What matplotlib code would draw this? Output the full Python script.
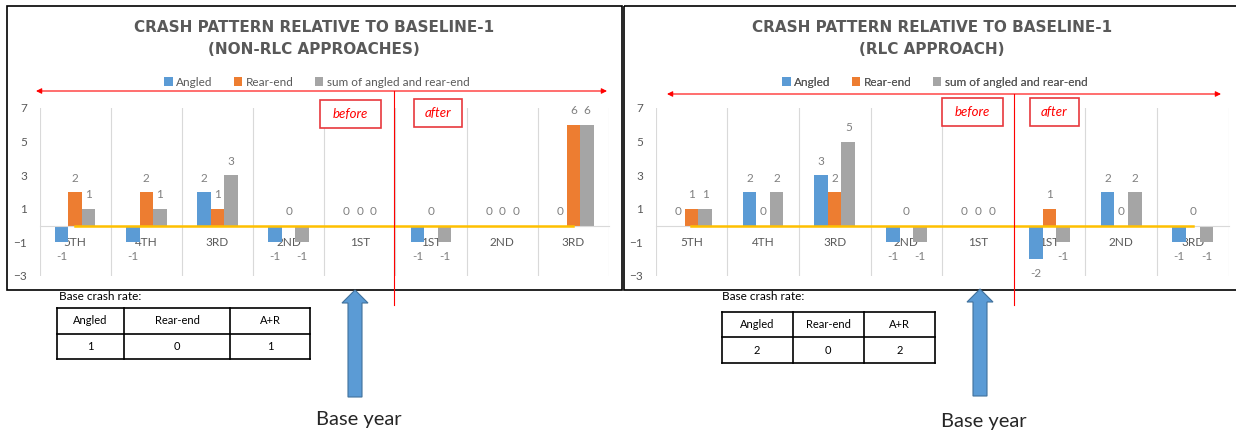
import matplotlib
matplotlib.use('Agg')
import matplotlib.pyplot as plt
from matplotlib.patches import Rectangle, Polygon, Patch
import numpy as np

plt.rcParams['font.family'] = ['Lato', 'DejaVu Sans']

# data
categories = ['5TH', '4TH', '3RD', '2ND', '1ST', '1ST', '2ND', '3RD']
series_names = ['Angled', 'Rear-end', 'sum of angled and rear-end']

nonrlc_angled = [-1, -1, 2, -1, 0, -1, 0, 0]
nonrlc_rearend = [2, 2, 1, 0, 0, 0, 0, 6]
nonrlc_sum = [1, 1, 3, -1, 0, -1, 0, 6]

rlc_angled = [0, 2, 3, -1, 0, -2, 2, -1]
rlc_rearend = [1, 0, 2, 0, 0, 1, 0, 0]
rlc_sum = [1, 2, 5, -1, 0, -1, 2, -1]

base_headers = ['Angled', 'Rear-end', 'A+R']
nonrlc_base = [1, 0, 1]
rlc_base = [2, 0, 2]

y_ticks = [-3, -1, 1, 3, 5, 7]

title_line1 = 'CRASH PATTERN RELATIVE TO BASELINE-1'
nonrlc_sub = '(NON-RLC APPROACHES)'
rlc_sub = '(RLC APPROACH)'

colors = ['#5B9BD5', '#ED7D31', '#A5A5A5']
GRAY = '#595959'

W, H = 1236, 433
fig = plt.figure(figsize=(W / 100, H / 100), dpi=100)


def ax_rect(x0, x1, y0, y1):
    return [x0 / W, 1 - y1 / H, (x1 - x0) / W, (y1 - y0) / H]


def draw_panel(ax, angled, rearend, total):
    x = np.arange(len(categories))
    w = 0.19
    for k, (vals, col) in enumerate(zip([angled, rearend, total], colors)):
        xs = x + (k - 1) * w
        ax.bar(xs, vals, w, color=col, zorder=2)
        for xi, v in zip(xs, vals):
            ax.annotate(str(v), (xi, v), xytext=(0, 10 if v >= 0 else -10.5),
                        textcoords='offset points', ha='center', va='center',
                        fontsize=8.5, color='#808080')
    ax.plot(x, np.zeros(len(x)), color='#FFC000', lw=1.8, zorder=3)
    ax.set_xlim(-0.5, len(categories) - 0.5)
    ax.set_ylim(-3, 7)
    ax.set_yticks(y_ticks)
    ax.set_xticks(x)
    ax.set_xticklabels(categories, family=['DejaVu Sans'])
    ax.set_xticks(np.arange(-0.5, len(categories)), minor=True)
    ax.grid(True, which='minor', axis='x', color='#D9D9D9', lw=0.8)
    ax.tick_params(which='both', length=0)
    ax.tick_params(axis='x', pad=8, labelcolor=GRAY, labelsize=8.5)
    ax.tick_params(axis='y', pad=9, labelcolor=GRAY, labelsize=8.5)
    for s in ['top', 'right', 'left']:
        ax.spines[s].set_visible(False)
    ax.spines['bottom'].set_position(('data', 0))
    ax.spines['bottom'].set_color('#D9D9D9')
    ax.set_facecolor('none')


ax1 = fig.add_axes(ax_rect(39.5, 609, 108, 276))
draw_panel(ax1, nonrlc_angled, nonrlc_rearend, nonrlc_sum)
ax2 = fig.add_axes(ax_rect(655.6, 1228.7, 108, 276))
draw_panel(ax2, rlc_angled, rlc_rearend, rlc_sum)

# overlay in pixel coordinates
ov = fig.add_axes([0, 0, 1, 1], zorder=5)
ov.set_xlim(0, W)
ov.set_ylim(H, 0)
ov.axis('off')
ov.patch.set_alpha(0)

# panel borders
ov.add_patch(Rectangle((7, 6), 615, 284, fill=False, ec='black', lw=1.2))
ov.add_patch(Rectangle((624, 6), 620, 284, fill=False, ec='black', lw=1.2))


def draw_overlay(cx, sub, arrow_x, arrow_y, red_x, before_box, after_box,
                 base_xy, cols, rows, base_vals, blue_x, tip_y, text_y):
    ov.text(cx, 27, title_line1, ha='center', va='center', fontsize=11,
            weight='bold', color=GRAY, family=['DejaVu Sans'])
    ov.text(cx, 49, sub, ha='center', va='center', fontsize=11,
            weight='bold', color=GRAY, family=['DejaVu Sans'])
    handles = [Patch(facecolor=c, edgecolor='none') for c in colors]
    leg = ov.legend(handles, series_names, loc='center',
                    bbox_to_anchor=(cx + 3, 82), bbox_transform=ov.transData,
                    ncol=3, frameon=False, fontsize=8.5,
                    handlelength=0.7, handleheight=0.7, handletextpad=0.3,
                    columnspacing=1.8, labelcolor=GRAY)
    ov.add_artist(leg)
    ov.annotate('', xy=(arrow_x[1], arrow_y), xytext=(arrow_x[0], arrow_y),
                arrowprops=dict(arrowstyle='<|-|>', color='red', lw=0.8,
                                mutation_scale=8, shrinkA=0, shrinkB=0))
    ov.plot([red_x, red_x], [arrow_y, 305], color='red', lw=0.8)
    for (x0, x1, y0, y1), label in [(before_box, 'before'), (after_box, 'after')]:
        ov.add_patch(Rectangle((x0, y0), x1 - x0, y1 - y0, fc='white',
                               ec='#E8383D', lw=1.2))
        ov.text((x0 + x1) / 2, (y0 + y1) / 2, label, ha='center', va='center',
                fontsize=9.5, style='italic', color='red')
    # base crash rate table
    ov.text(base_xy[0], base_xy[1], 'Base crash rate:', ha='left', va='center',
            fontsize=8.5, color='black')
    for xx in cols:
        ov.plot([xx, xx], [rows[0], rows[-1]], color='black', lw=1.2)
    for yy in rows:
        ov.plot([cols[0], cols[-1]], [yy, yy], color='black', lw=1.2)
    for i in range(3):
        xc = (cols[i] + cols[i + 1]) / 2
        ov.text(xc, (rows[0] + rows[1]) / 2, base_headers[i], ha='center',
                va='center', fontsize=8)
        ov.text(xc, (rows[1] + rows[2]) / 2, str(base_vals[i]), ha='center',
                va='center', fontsize=8)
    # base year arrow
    pts = [(blue_x, tip_y), (blue_x + 13, tip_y + 13), (blue_x + 7, tip_y + 13),
           (blue_x + 7, tip_y + 107), (blue_x - 7, tip_y + 107),
           (blue_x - 7, tip_y + 13), (blue_x - 13, tip_y + 13)]
    ov.add_patch(Polygon(pts, closed=True, fc='#5B9BD5', ec='#41719C', lw=0.8))
    ov.text(blue_x + 4, text_y, 'Base year', ha='center', va='center',
            fontsize=14.5, color='#262626')


draw_overlay(314, nonrlc_sub, (36, 607), 91, 394, (320, 381, 100, 128),
             (414, 462, 99, 127), (59, 296), [57, 124, 230, 310],
             [308, 334, 359], nonrlc_base, 355, 290, 420)
draw_overlay(932, rlc_sub, (667, 1221), 94, 1014, (942, 1002.6, 98, 126),
             (1030, 1078.5, 98, 126), (722, 297), [721.6, 792.7, 864, 935],
             [312, 337, 363], rlc_base, 980, 289, 422)

fig.savefig('out.png', dpi=100, facecolor='white')
